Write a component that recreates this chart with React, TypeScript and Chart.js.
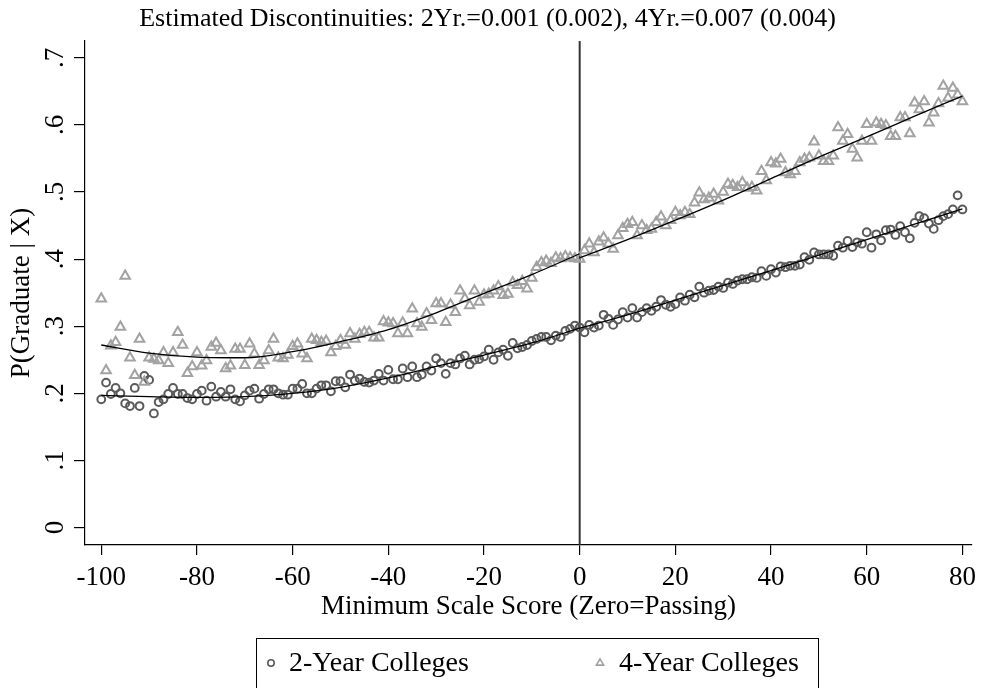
import React, { useEffect, useRef } from "react";
import { Chart, registerables } from "chart.js";

Chart.register(...registerables);

const TITLE = "Estimated Discontinuities: 2Yr.=0.001 (0.002), 4Yr.=0.007 (0.004)";
const X_TITLE = "Minimum Scale Score (Zero=Passing)";
const Y_TITLE = "P(Graduate | X)";
const LEGEND_LABELS = ["2-Year Colleges", "4-Year Colleges"];

const X_TICKS = [-100, -80, -60, -40, -20, 0, 20, 40, 60, 80];
const X_TICK_LABELS = ["-100", "-80", "-60", "-40", "-20", "0", "20", "40", "60", "80"];
const Y_TICKS = [0, 0.1, 0.2, 0.3, 0.4, 0.5, 0.6, 0.7];
const Y_TICK_LABELS = ["0", ".1", ".2", ".3", ".4", ".5", ".6", ".7"];
const CUTOFF = 0;

const SCORES = [
  -100, -99, -98, -97, -96, -95, -94, -93, -92, -91, -90, -89, -88, -87, -86, -85, -84, -83, -82, -81,
  -80, -79, -78, -77, -76, -75, -74, -73, -72, -71, -70, -69, -68, -67, -66, -65, -64, -63, -62, -61,
  -60, -59, -58, -57, -56, -55, -54, -53, -52, -51, -50, -49, -48, -47, -46, -45, -44, -43, -42, -41,
  -40, -39, -38, -37, -36, -35, -34, -33, -32, -31, -30, -29, -28, -27, -26, -25, -24, -23, -22, -21,
  -20, -19, -18, -17, -16, -15, -14, -13, -12, -11, -10, -9, -8, -7, -6, -5, -4, -3, -2, -1,
  0, 1, 2, 3, 4, 5, 6, 7, 8, 9, 10, 11, 12, 13, 14, 15, 16, 17, 18, 19,
  20, 21, 22, 23, 24, 25, 26, 27, 28, 29, 30, 31, 32, 33, 34, 35, 36, 37, 38, 39,
  40, 41, 42, 43, 44, 45, 46, 47, 48, 49, 50, 51, 52, 53, 54, 55, 56, 57, 58, 59,
  60, 61, 62, 63, 64, 65, 66, 67, 68, 69, 70, 71, 72, 73, 74, 75, 76, 77, 78, 79,
  80,
];

const GRAD_2YR = [
  0.191, 0.216, 0.199, 0.208, 0.2, 0.185, 0.181, 0.208, 0.181, 0.226, 0.22, 0.17, 0.187, 0.191, 0.199, 0.208, 0.199, 0.199, 0.193, 0.191,
  0.199, 0.204, 0.189, 0.21, 0.195, 0.202, 0.195, 0.206, 0.191, 0.188, 0.197, 0.204, 0.207, 0.192, 0.199, 0.206, 0.206, 0.2, 0.198, 0.198,
  0.207, 0.207, 0.214, 0.2, 0.2, 0.207, 0.212, 0.212, 0.203, 0.218, 0.218, 0.209, 0.228, 0.219, 0.222, 0.217, 0.216, 0.219, 0.229, 0.219,
  0.235, 0.221, 0.221, 0.237, 0.224, 0.24, 0.224, 0.228, 0.24, 0.234, 0.252, 0.245, 0.229, 0.245, 0.243, 0.252, 0.256, 0.243, 0.25, 0.251,
  0.255, 0.265, 0.25, 0.261, 0.265, 0.256, 0.275, 0.267, 0.269, 0.272, 0.278, 0.281, 0.284, 0.284, 0.279, 0.286, 0.284, 0.293, 0.296, 0.301,
  0.298, 0.291, 0.302, 0.298, 0.301, 0.317, 0.311, 0.302, 0.31, 0.321, 0.313, 0.327, 0.313, 0.321, 0.327, 0.323, 0.329, 0.339, 0.332, 0.329,
  0.333, 0.343, 0.338, 0.347, 0.343, 0.359, 0.35, 0.353, 0.354, 0.359, 0.357, 0.365, 0.363, 0.368, 0.37, 0.37, 0.373, 0.372, 0.382, 0.375,
  0.385, 0.38, 0.389, 0.388, 0.39, 0.39, 0.392, 0.403, 0.399, 0.41, 0.407, 0.407, 0.407, 0.405, 0.42, 0.417, 0.427, 0.418, 0.425, 0.423,
  0.44, 0.417, 0.437, 0.428, 0.443, 0.444, 0.436, 0.449, 0.44, 0.431, 0.454, 0.464, 0.461, 0.453, 0.445, 0.458, 0.464, 0.467, 0.474, 0.495,
  0.474,
];

const GRAD_4YR = [
  0.341, 0.234, 0.271, 0.276, 0.299, 0.375, 0.253, 0.227, 0.281, 0.217, 0.253, 0.251, 0.249, 0.261, 0.245, 0.261, 0.291, 0.272, 0.23, 0.24,
  0.261, 0.241, 0.249, 0.269, 0.275, 0.264, 0.237, 0.241, 0.266, 0.266, 0.242, 0.274, 0.259, 0.242, 0.249, 0.264, 0.281, 0.253, 0.252, 0.257,
  0.27, 0.274, 0.259, 0.252, 0.281, 0.279, 0.276, 0.278, 0.261, 0.27, 0.279, 0.272, 0.289, 0.281, 0.288, 0.291, 0.291, 0.283, 0.283, 0.307,
  0.305, 0.304, 0.289, 0.305, 0.289, 0.326, 0.304, 0.299, 0.319, 0.309, 0.334, 0.334, 0.306, 0.332, 0.321, 0.353, 0.341, 0.331, 0.353, 0.336,
  0.347, 0.348, 0.353, 0.359, 0.346, 0.348, 0.365, 0.361, 0.367, 0.356, 0.372, 0.388, 0.395, 0.397, 0.394, 0.402, 0.401, 0.404, 0.402, 0.401,
  0.4, 0.413, 0.423, 0.41, 0.426, 0.432, 0.423, 0.415, 0.435, 0.446, 0.452, 0.455, 0.435, 0.45, 0.443, 0.445, 0.455, 0.463, 0.45, 0.458,
  0.47, 0.465, 0.47, 0.467, 0.484, 0.499, 0.489, 0.491, 0.497, 0.487, 0.5, 0.512, 0.51, 0.507, 0.514, 0.506, 0.507, 0.502, 0.531, 0.517,
  0.544, 0.542, 0.549, 0.529, 0.526, 0.531, 0.544, 0.549, 0.551, 0.575, 0.554, 0.546, 0.546, 0.554, 0.596, 0.576, 0.586, 0.564, 0.551, 0.576,
  0.601, 0.576, 0.603, 0.601, 0.599, 0.583, 0.583, 0.611, 0.611, 0.587, 0.633, 0.623, 0.635, 0.603, 0.618, 0.632, 0.658, 0.64, 0.655, 0.645,
  0.635,
];

const FIT_X_LEFT = [-100, -90, -80, -70, -60, -50, -40, -30, -20, -10, 0];
const FIT_2YR_LEFT = [0.197, 0.195, 0.194, 0.195, 0.2, 0.209, 0.223, 0.24, 0.257, 0.275, 0.297];
const FIT_4YR_LEFT = [0.272, 0.26, 0.254, 0.253, 0.262, 0.277, 0.295, 0.32, 0.349, 0.377, 0.408];
const FIT_X_RIGHT = [0, 10, 20, 30, 40, 50, 60, 70, 80];
const FIT_2YR_RIGHT = [0.297, 0.317, 0.339, 0.361, 0.383, 0.406, 0.429, 0.452, 0.475];
const FIT_4YR_RIGHT = [0.402, 0.429, 0.458, 0.488, 0.52, 0.552, 0.582, 0.613, 0.643];

const FONT = "'Liberation Serif', 'Times New Roman', serif";
const COLOR_2YR = "#5a5a5a";
const COLOR_4YR = "#a2a2a2";

const pts = (xs: number[], ys: number[]) => xs.map((x, i) => ({ x, y: ys[i] }));

export default function App() {
  const ref = useRef<HTMLCanvasElement | null>(null);

  useEffect(() => {
    document.body.style.margin = "0";
    const canvas = ref.current;
    if (!canvas) return;

    const fitLine = (xs: number[], ys: number[]) => ({
      type: "scatter" as const,
      data: pts(xs, ys),
      showLine: true,
      borderColor: "#000",
      borderWidth: 1.3,
      pointRadius: 0,
      cubicInterpolationMode: "monotone" as const,
      fill: false,
      order: 0,
    });

    const cutoffPlugin = {
      id: "cutoff",
      beforeDatasetsDraw(chart: any) {
        const { ctx, chartArea, scales } = chart;
        const x = scales.x.getPixelForValue(CUTOFF);
        ctx.save();
        ctx.strokeStyle = "#333";
        ctx.lineWidth = 2;
        ctx.beginPath();
        ctx.moveTo(x, chartArea.bottom);
        ctx.lineTo(x, chartArea.top);
        ctx.stroke();
        ctx.restore();
      },
    };

    const legendPlugin = {
      id: "boxLegend",
      afterDraw(chart: any) {
        const { ctx } = chart;
        ctx.save();
        ctx.strokeStyle = "#000";
        ctx.lineWidth = 1;
        ctx.strokeRect(256.5, 638.5, 562, 80);
        const cy = 663;
        ctx.strokeStyle = COLOR_2YR;
        ctx.lineWidth = 1.6;
        ctx.beginPath();
        ctx.arc(271, cy, 3.2, 0, Math.PI * 2);
        ctx.stroke();
        ctx.strokeStyle = COLOR_4YR;
        ctx.beginPath();
        const tr = 4.2;
        ctx.moveTo(600, cy - tr);
        ctx.lineTo(600 + tr * 0.866, cy + tr * 0.5);
        ctx.lineTo(600 - tr * 0.866, cy + tr * 0.5);
        ctx.closePath();
        ctx.stroke();
        ctx.fillStyle = "#000";
        ctx.font = `28px ${FONT}`;
        ctx.textBaseline = "middle";
        ctx.textAlign = "left";
        ctx.fillText(LEGEND_LABELS[0], 289, cy + 1);
        ctx.fillText(LEGEND_LABELS[1], 619, cy + 1);
        ctx.restore();
      },
    };

    const bgPlugin = {
      id: "bg",
      beforeDraw(chart: any) {
        const { ctx, width, height } = chart;
        ctx.save();
        ctx.fillStyle = "#fff";
        ctx.fillRect(0, 0, width, height);
        ctx.restore();
      },
    };

    const chart = new Chart(canvas, {
      type: "scatter",
      data: {
        datasets: [
          fitLine(FIT_X_LEFT, FIT_2YR_LEFT),
          fitLine(FIT_X_RIGHT, FIT_2YR_RIGHT),
          fitLine(FIT_X_LEFT, FIT_4YR_LEFT),
          fitLine(FIT_X_RIGHT, FIT_4YR_RIGHT),
          {
            label: LEGEND_LABELS[0],
            data: pts(SCORES, GRAD_2YR),
            pointStyle: "circle",
            pointRadius: 3.9,
            borderWidth: 2,
            borderColor: COLOR_2YR,
            backgroundColor: "rgba(0,0,0,0)",
            order: 2,
          },
          {
            label: LEGEND_LABELS[1],
            data: pts(SCORES, GRAD_4YR),
            pointStyle: "triangle",
            pointRadius: 5.5,
            borderWidth: 2,
            borderColor: COLOR_4YR,
            backgroundColor: "rgba(0,0,0,0)",
            order: 1,
          },
        ] as any,
      },
      options: {
        animation: false,
        responsive: false,
        events: [],
        layout: { padding: { left: 0, right: 8, top: 0, bottom: 48 } },
        plugins: {
          legend: { display: false },
          tooltip: { enabled: false },
          title: {
            display: true,
            text: TITLE,
            color: "#000",
            font: { family: FONT, size: 26, weight: "normal", lineHeight: 1.2 },
            padding: { top: 4, bottom: 5.8 },
          },
        },
        scales: {
          x: {
            type: "linear",
            min: -103.4,
            max: 82,
            afterBuildTicks: (s: any) => {
              s.ticks = X_TICKS.map((v) => ({ value: v }));
            },
            afterFit: (s: any) => {
              s.height = 95;
            },
            ticks: {
              autoSkip: false,
              maxRotation: 0,
              minRotation: 0,
              color: "#000",
              padding: 7,
              font: { family: FONT, size: 27 },
              callback: (_v: any, i: number) => X_TICK_LABELS[i],
            },
            grid: {
              drawOnChartArea: false,
              drawTicks: true,
              tickLength: 10,
              color: "#000",
              lineWidth: 1.2,
            },
            border: { display: true, color: "#000", width: 1.2 },
            title: {
              display: true,
              text: X_TITLE,
              color: "#000",
              font: { family: FONT, size: 27, lineHeight: 1.2 },
              padding: { top: 0, bottom: 17 },
            },
          },
          y: {
            type: "linear",
            min: -0.026,
            max: 0.725,
            afterBuildTicks: (s: any) => {
              s.ticks = Y_TICKS.map((v) => ({ value: v }));
            },
            afterFit: (s: any) => {
              s.width = 85;
            },
            ticks: {
              autoSkip: false,
              minRotation: 90,
              maxRotation: 90,
              crossAlign: "center",
              color: "#000",
              padding: 8,
              font: { family: FONT, size: 27 },
              callback: (_v: any, i: number) => Y_TICK_LABELS[i],
            },
            grid: {
              drawOnChartArea: false,
              drawTicks: true,
              tickLength: 11,
              color: "#000",
              lineWidth: 1.2,
            },
            border: { display: true, color: "#000", width: 1.2 },
            title: {
              display: true,
              text: Y_TITLE,
              color: "#000",
              font: { family: FONT, size: 27, lineHeight: 1.2 },
              padding: { top: 6, bottom: 0 },
            },
          },
        },
      } as any,
      plugins: [bgPlugin, cutoffPlugin, legendPlugin],
    });

    return () => chart.destroy();
  }, []);

  return (
    <div style={{ width: 983, height: 688, position: "relative", background: "#fff" }}>
      <canvas ref={ref} width={983} height={688} style={{ display: "block" }} />
    </div>
  );
}
